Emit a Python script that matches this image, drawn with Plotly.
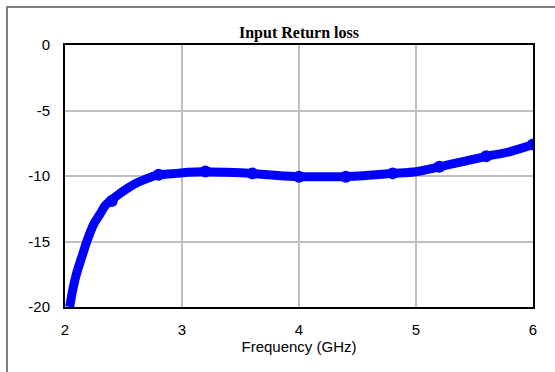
import plotly.graph_objects as go

freq = [2.04, 2.066, 2.10, 2.143, 2.19, 2.25, 2.30, 2.34, 2.385, 2.43, 2.49, 2.55, 2.62, 2.70, 2.76, 2.81, 2.88, 2.955, 3.05, 3.18, 3.38, 3.58, 3.8, 3.99, 4.2, 4.38, 4.63, 4.80, 5.0, 5.2, 5.4, 5.6, 5.8, 6.0]
s11 = [-20.0, -18.7, -17.4, -16.2, -14.9, -13.6, -12.9, -12.3, -11.9, -11.6, -11.2, -10.85, -10.5, -10.2, -10.0, -9.9, -9.85, -9.8, -9.72, -9.67, -9.72, -9.8, -9.95, -10.05, -10.05, -10.05, -9.92, -9.8, -9.67, -9.3, -8.9, -8.5, -8.15, -7.6]

mark_freq = [2.4, 2.8, 3.2, 3.6, 4.0, 4.4, 4.8, 5.2, 5.6, 6.0]
mark_s11 = [-11.9, -9.9, -9.65, -9.8, -10.05, -10.05, -9.8, -9.3, -8.5, -7.6]

y_ticks = [0, -5, -10, -15, -20]
y_tick_text = ["0", "-5", "-10", "-15", "-20"]

fig = go.Figure()
fig.add_trace(go.Scatter(x=freq, y=s11, mode="lines", line=dict(color="#0000FF", width=9, shape="spline", smoothing=0.8), showlegend=False))
fig.add_trace(go.Scatter(x=mark_freq, y=mark_s11, mode="markers", marker=dict(color="#0000FF", size=12, symbol="circle"), showlegend=False))

fig.update_layout(
    width=555, height=372,
    margin=dict(l=65, r=22, t=45, b=65),
    paper_bgcolor="white", plot_bgcolor="white",
    title=dict(text="<b>Input Return loss</b>", x=(65 + 533) / 2 / 555, xanchor="center",
               y=1 - 32 / 372, yanchor="middle", yref="container",
               font=dict(family="Liberation Serif, Times New Roman, serif", size=16, color="black")),
    font=dict(family="Liberation Sans, Arial, sans-serif", size=15, color="black"),
)
fig.update_xaxes(range=[2, 6], dtick=1, showgrid=True, gridcolor="#C0C0C0", gridwidth=2,
                 showline=True, linecolor="black", linewidth=2, mirror=True, zeroline=False,
                 ticks="outside", ticklen=8, tickcolor="white",
                 title=dict(text="Frequency (GHz)", standoff=4, font=dict(size=15)))
fig.update_yaxes(range=[-20, 0], tickvals=y_ticks, ticktext=y_tick_text, showgrid=True, gridcolor="#C0C0C0", gridwidth=2,
                 showline=True, linecolor="black", linewidth=2, mirror=True, zeroline=False,
                 ticks="outside", ticklen=10, tickcolor="white")
fig.add_shape(type="rect", xref="paper", yref="paper", x0=(7 - 65) / 468, x1=1.2, y0=-0.5, y1=(307 - 7) / 262,
              line=dict(color="#808080", width=2), fillcolor="rgba(0,0,0,0)", layer="below")
fig.write_html("out.html")
